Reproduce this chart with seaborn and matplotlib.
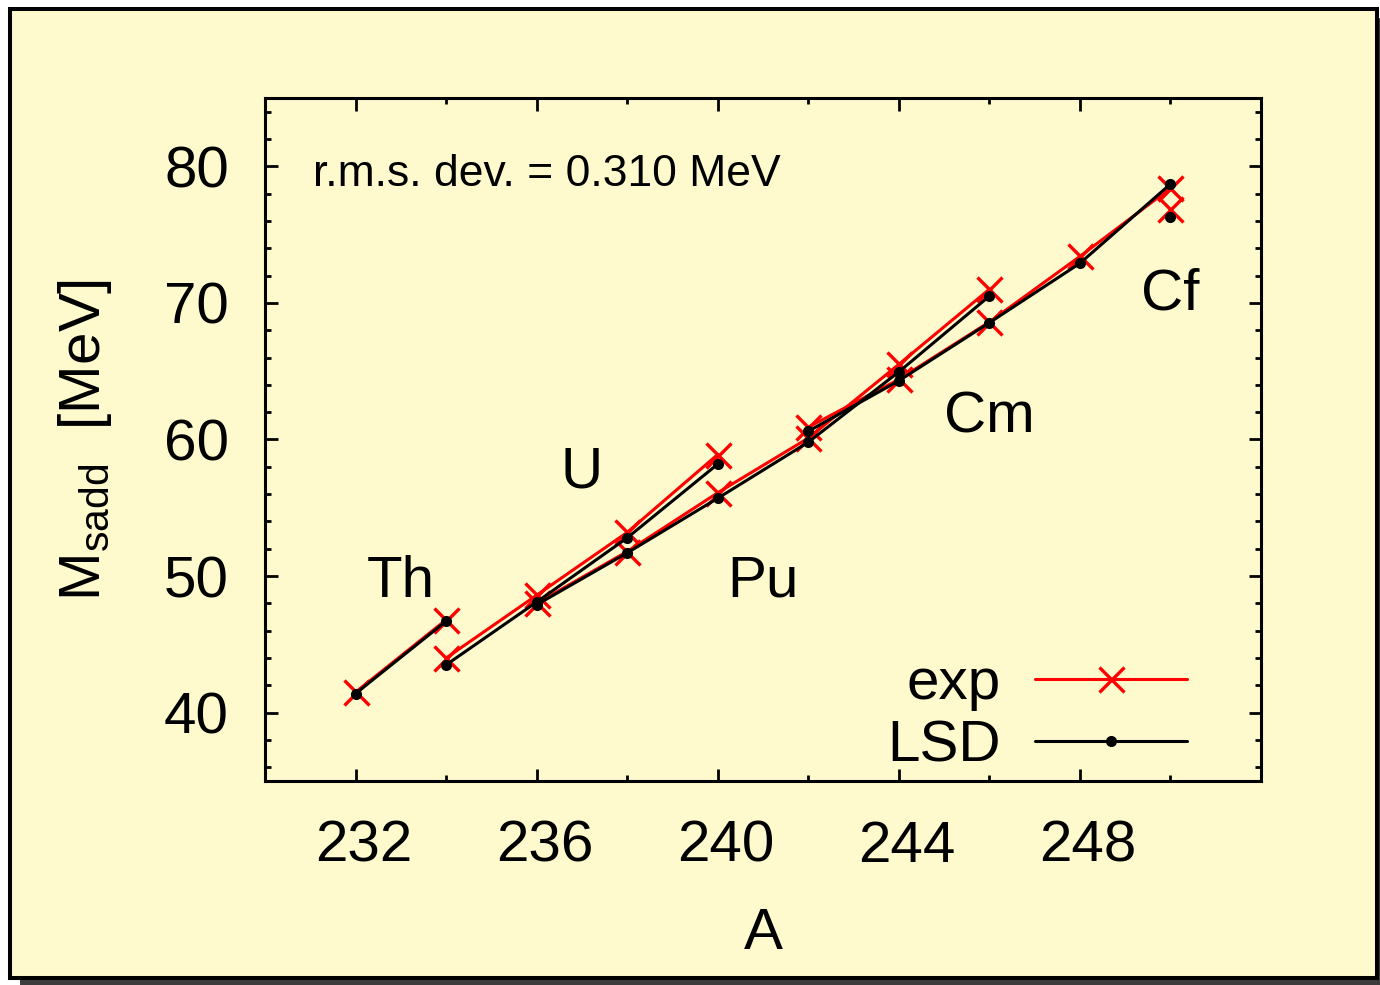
import matplotlib
matplotlib.use("Agg")
import matplotlib.pyplot as plt
import seaborn as sns
import pandas as pd
from matplotlib.patches import Rectangle
from matplotlib.lines import Line2D
from matplotlib.ticker import MultipleLocator
from matplotlib.transforms import ScaledTranslation

# ---- data ----
A_Th = [232, 234]
exp_Th = [41.5, 46.8]
lsd_Th = [41.4, 46.7]

A_U = [234, 236, 238, 240]
exp_U = [44.0, 48.6, 53.2, 58.9]
lsd_U = [43.5, 48.1, 52.8, 58.2]

A_Pu = [236, 238, 240, 242, 244, 246]
exp_Pu = [48.0, 51.8, 56.1, 60.1, 65.5, 71.0]
lsd_Pu = [47.9, 51.7, 55.7, 59.8, 64.95, 70.5]

A_Cm = [242, 244, 246, 248, 250]
exp_Cm = [60.9, 64.4, 68.6, 73.4, 78.4]
lsd_Cm = [60.6, 64.3, 68.55, 72.9, 78.7]

A_Cf = [250]
exp_Cf = [76.85]
lsd_Cf = [76.3]

elements = ["Th", "U", "Pu", "Cm", "Cf"]
label_pos = {"Th": (233.0, 49.6), "U": (237.0, 57.6), "Pu": (241.0, 49.6),
             "Cm": (246.0, 61.6), "Cf": (250.0, 70.6)}
rms_text = "r.m.s. dev. = 0.310 MeV"
x_ticks = [232, 236, 240, 244, 248]
y_ticks = [40, 50, 60, 70, 80]

series = {"Th": (A_Th, exp_Th, lsd_Th), "U": (A_U, exp_U, lsd_U),
          "Pu": (A_Pu, exp_Pu, lsd_Pu), "Cm": (A_Cm, exp_Cm, lsd_Cm),
          "Cf": (A_Cf, exp_Cf, lsd_Cf)}

rows = []
for el in elements:
    A, e, l = series[el]
    for a, v in zip(A, e):
        rows.append({"element": el, "source": "exp", "A": a, "M": v})
    for a, v in zip(A, l):
        rows.append({"element": el, "source": "LSD", "A": a, "M": v})
df = pd.DataFrame(rows)

# ---- style ----
sns.set_style("ticks")
plt.rcParams["font.family"] = ["Liberation Sans", "DejaVu Sans"]
plt.rcParams["mathtext.fontset"] = "custom"
plt.rcParams["mathtext.rm"] = "Liberation Sans"
plt.rcParams["mathtext.it"] = "Liberation Sans:italic"
for k in ["text.color", "axes.labelcolor", "xtick.color", "ytick.color",
          "axes.edgecolor"]:
    plt.rcParams[k] = "black"

W, H = 1380, 985
BG = "#fefacd"
fig = plt.figure(figsize=(W / 100, H / 100), dpi=100, facecolor="white")

def fx(x):
    return x / W

def fy(y):
    return 1 - y / H

# shadow + framed background
fig.add_artist(Rectangle((fx(20), fy(987)), fx(1380 - 20 + 10), (987 - 18) / H,
                         transform=fig.transFigure, facecolor="#3c3c3c",
                         edgecolor="none", zorder=0))
fig.add_artist(Rectangle((fx(10), fy(978)), fx(1377 - 10), (978 - 8.5) / H,
                         transform=fig.transFigure, facecolor=BG,
                         edgecolor="black", lw=2.9, zorder=0.5))

ax = fig.add_axes([fx(265), fy(781), fx(1261 - 265), (781 - 98) / H])
ax.set_facecolor(BG)
ax.set_zorder(2)

lw = 2.2
sns.lineplot(data=df[df.source == "exp"], x="A", y="M", units="element",
             estimator=None, sort=False, color="red", lw=lw, marker="x",
             markersize=18, markeredgewidth=2.4, markeredgecolor="red",
             legend=False, ax=ax)
sns.lineplot(data=df[df.source == "LSD"], x="A", y="M", units="element",
             estimator=None, sort=False, color="black", lw=lw, marker="o",
             markersize=8, markeredgewidth=0, markerfacecolor="black",
             markeredgecolor="black", legend=False, ax=ax)

ax.set_xlim(230, 252)
ax.set_ylim(35, 85)
ax.set_xticks(x_ticks)
ax.set_yticks(y_ticks)
ax.xaxis.set_minor_locator(MultipleLocator(2))
ax.yaxis.set_minor_locator(MultipleLocator(2))

FS = 42
ax.tick_params(which="both", direction="in", top=True, right=True, width=2.0)
ax.tick_params(which="major", length=9, labelsize=FS)
ax.tick_params(which="minor", length=4.5)
ax.tick_params(axis="x", which="major", pad=28)
ax.tick_params(axis="y", which="major", pad=26)
for s in ax.spines.values():
    s.set_linewidth(2.2)

shift = ScaledTranslation(8 / 100, 0, fig.dpi_scale_trans)
for lab in ax.get_xticklabels():
    lab.set_transform(lab.get_transform() + shift)

ax.set_xlabel("A", fontsize=FS)
ax.set_ylabel(r"M$_{\rm sadd}$  [MeV]", fontsize=FS)
ax.xaxis.set_label_coords(0.5, -0.185)
ax.yaxis.set_label_coords(-0.152, 0.5)

for el in elements:
    x, y = label_pos[el]
    ax.text(x, y, el, fontsize=FS, ha="center", va="center")
ax.text(231.05, 79.4, rms_text, fontsize=32, ha="left", va="center")

handles = [Line2D([], [], color="red", lw=lw, marker="x", markersize=18,
                  markeredgewidth=2.4),
           Line2D([], [], color="black", lw=lw, marker="o", markersize=8,
                  markeredgewidth=0)]
leg = ax.legend(handles, ["exp", "LSD"], loc="lower right", frameon=False,
                fontsize=FS, markerfirst=False, handlelength=2.6,
                handletextpad=0.6, labelspacing=0.13,
                borderaxespad=0.1, bbox_to_anchor=(0.955, -0.031))

fig.savefig("out.png", dpi=100, facecolor="white")
